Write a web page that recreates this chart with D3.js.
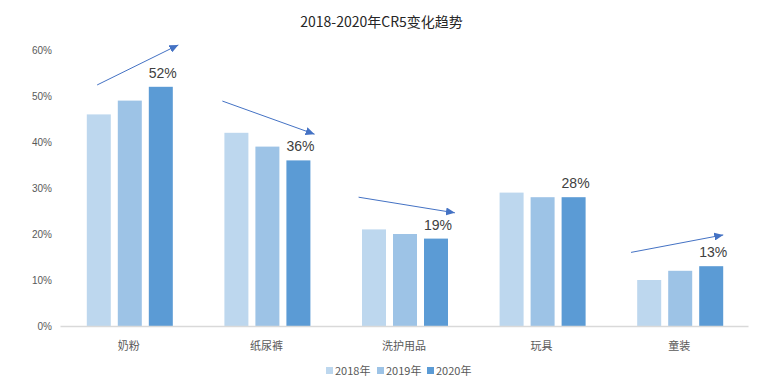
<!DOCTYPE html>
<html><head><meta charset="utf-8">
<script src="https://cdn.jsdelivr.net/npm/d3@7"></script>
<style>body{margin:0;background:#fff}svg{display:block}</style>
</head><body><svg id="c" width="763" height="382"></svg>
<script>
const title = "2018-2020年CR5变化趋势";
const categories = ["奶粉","纸尿裤","洗护用品","玩具","童装"];
const seriesNames = ["2018年","2019年","2020年"];
const values2018 = [46,42,21,29,10];
const values2019 = [49,39,20,28,12];
const values2020 = [52,36,19,28,13];
const yTicks = [0,10,20,30,40,50,60];
const seriesColors = ["#BDD7EE","#9DC3E6","#5B9BD5"];
// trend arrows: category, start/end value (%), start/end position within category band
const arrowCats = ["奶粉","纸尿裤","洗护用品","童装"];
const arrowFromVal = [52.4,48.9,28.0,16.0];
const arrowToVal = [61.1,41.7,24.6,19.8];
const arrowFromPos = [0.27,0.18,0.17,0.15];
const arrowToPos = [0.86,0.85,0.87,0.82];

const allSeries = [values2018, values2019, values2020];
const svg = d3.select("#c");
const W=763, H=382;
const mLeft=60, mRight=748, mTop=50, mBottom=326;

const x0 = d3.scaleBand().domain(categories).range([mLeft,mRight]).paddingInner(0).paddingOuter(0);
const x1 = d3.scaleBand().domain(seriesNames).range([1,x0.bandwidth()+1]).paddingInner(0.226).paddingOuter(0.832);
const y = d3.scaleLinear().domain([0,60]).range([mBottom,mTop]);

svg.append("text").attr("x",W/2).attr("y",27).attr("text-anchor","middle")
  .attr("font-family","'Noto Sans CJK SC',sans-serif").attr("font-size",14).attr("fill","#262626").text(title);

// y axis labels
const yAxis = d3.axisLeft(y).tickValues(yTicks).tickFormat(d=>d+"%").tickSize(0).tickPadding(8);
const ga = svg.append("g").attr("transform",`translate(${mLeft},0)`).call(yAxis);
ga.select(".domain").remove();
ga.selectAll("text").attr("font-family","'Liberation Sans',Arial,sans-serif").attr("font-size",10).attr("fill","#595959");

// bars
const groups = svg.append("g").selectAll("g").data(categories).join("g")
  .attr("transform",d=>`translate(${x0(d)},0)`);
groups.selectAll("rect").data((d,i)=>seriesNames.map((s,j)=>({s,j,v:allSeries[j][i]}))).join("rect")
  .attr("x",d=>x1(d.s)).attr("width",x1.bandwidth())
  .attr("y",d=>y(d.v)).attr("height",d=>y(0)-y(d.v))
  .attr("fill",d=>seriesColors[d.j]);

// baseline
const xAxis = d3.axisBottom(x0).tickSize(0).tickPadding(16);
const gx = svg.append("g").attr("transform",`translate(0,${mBottom})`).call(xAxis);
gx.select(".domain").attr("stroke","#D9D9D9").attr("stroke-width",1.5);
gx.selectAll("text").attr("font-family","'Noto Sans CJK SC',sans-serif").attr("font-size",11).attr("fill","#595959");

// data labels on 2020
svg.append("g").selectAll("text").data(categories).join("text")
  .attr("x",(d,i)=>x0(d)+x1("2020年")+x1.bandwidth()/2+2)
  .attr("y",(d,i)=>y(values2020[i])-9)
  .attr("text-anchor","middle").attr("font-family","'Liberation Sans',Arial,sans-serif")
  .attr("font-size",14).attr("fill","#404040").text((d,i)=>values2020[i]+"%");

// arrows
const defs = svg.append("defs");
defs.append("marker").attr("id","ah").attr("markerUnits","userSpaceOnUse")
  .attr("markerWidth",10).attr("markerHeight",8).attr("refX",9).attr("refY",4).attr("orient","auto")
  .append("path").attr("d","M0,0 L9,4 L0,8 Z").attr("fill","#4472C4");
svg.append("g").selectAll("line").data(arrowCats).join("line")
  .attr("x1",(d,i)=>x0(d)+arrowFromPos[i]*x0.bandwidth())
  .attr("y1",(d,i)=>y(arrowFromVal[i]))
  .attr("x2",(d,i)=>x0(d)+arrowToPos[i]*x0.bandwidth())
  .attr("y2",(d,i)=>y(arrowToVal[i]))
  .attr("stroke","#4472C4").attr("stroke-width",1).attr("marker-end","url(#ah)");

// legend
const legX = [326,377,427];
const lg = svg.append("g").selectAll("g").data(seriesNames).join("g")
  .attr("transform",(d,i)=>`translate(${legX[i]},371)`);
lg.append("rect").attr("x",0).attr("y",-4).attr("width",7).attr("height",7).attr("fill",(d,i)=>seriesColors[i]);
lg.append("text").attr("x",9).attr("y",4).attr("font-family","'Noto Sans CJK SC',sans-serif")
  .attr("font-size",11).attr("fill","#595959").text(d=>d);
</script></body></html>
